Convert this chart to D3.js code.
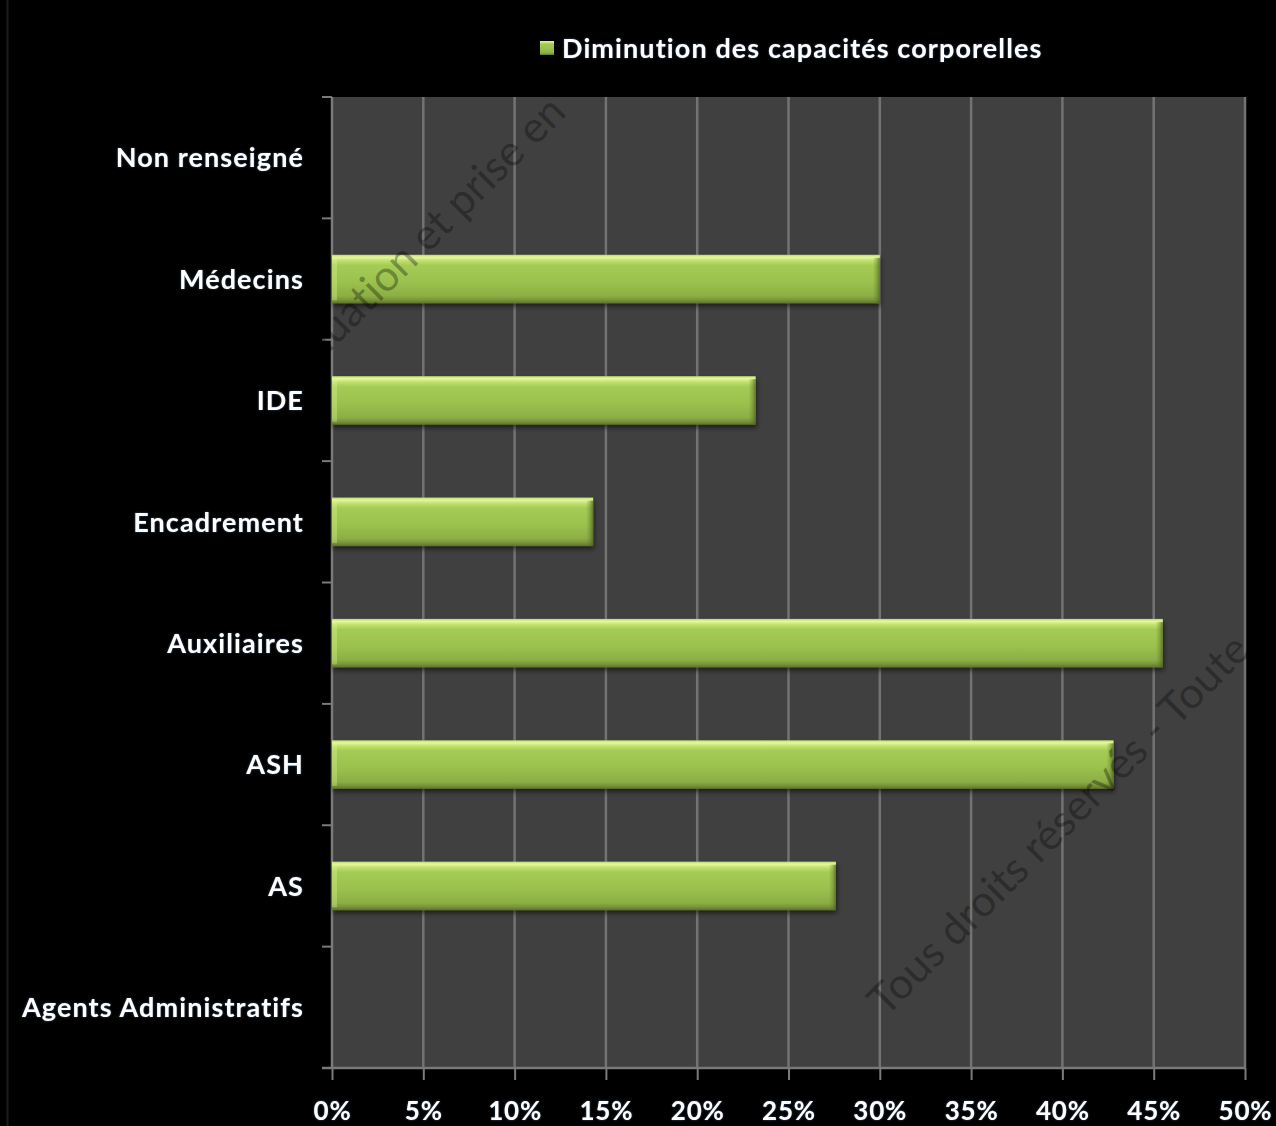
<!DOCTYPE html>
<html>
<head>
<meta charset="utf-8">
<script src="https://cdn.jsdelivr.net/npm/d3@7"></script>
<style>
  html, body { margin: 0; padding: 0; background: #000; }
  svg { display: block; }
  text { font-family: Lato, "Open Sans", sans-serif; font-variant-ligatures: none; }
</style>
</head>
<body>
<script>
// ---- data ----
const categories = ["Non renseigné", "Médecins", "IDE", "Encadrement", "Auxiliaires", "ASH", "AS", "Agents Administratifs"];
const values = [0, 30.0, 23.2, 14.3, 45.5, 42.8, 27.6, 0];
const seriesName = "Diminution des capacités corporelles";
const xTicks = [0, 5, 10, 15, 20, 25, 30, 35, 40, 45, 50];
const watermarks = ["évaluation et prise en", "Tous droits réservés - Toute"];

// ---- layout ----
const W = 1276, H = 1126;
const plot = { left: 332, right: 1245, top: 97, bottom: 1068 };

const svg = d3.select("body").append("svg").attr("width", W).attr("height", H);
svg.append("rect").attr("width", W).attr("height", H).attr("fill", "#000");
// faint slide border on the left
svg.append("line").attr("x1", 7.5).attr("x2", 7.5).attr("y1", 0).attr("y2", H)
  .attr("stroke", "#1c1c1c").attr("stroke-width", 2);

const defs = svg.append("defs");
const grad = defs.append("linearGradient").attr("id", "barGrad")
  .attr("x1", 0).attr("y1", 0).attr("x2", 0).attr("y2", 1);
[[0, "#b9d86a"], [0.05, "#e6f89c"], [0.12, "#c2e06e"], [0.22, "#a4cb55"], [0.55, "#9cc24e"],
 [0.85, "#8cae45"], [0.93, "#78953a"], [1, "#5c732c"]].forEach(([o, c]) =>
  grad.append("stop").attr("offset", o).attr("stop-color", c));
const endGrad = defs.append("linearGradient").attr("id", "endGrad")
  .attr("x1", 0).attr("y1", 0).attr("x2", 1).attr("y2", 0);
[[0, "rgba(90,115,40,0)"], [0.5, "rgba(90,115,40,0.35)"], [1, "rgba(70,90,30,0.75)"]].forEach(([o, c]) =>
  endGrad.append("stop").attr("offset", o).attr("stop-color", c));
const f = defs.append("filter").attr("id", "shadow").attr("x", "-5%").attr("y", "-30%").attr("width", "110%").attr("height", "170%");
f.append("feDropShadow").attr("dx", 1).attr("dy", 3).attr("stdDeviation", 2.5)
  .attr("flood-color", "#000").attr("flood-opacity", 0.55);
const glow = defs.append("filter").attr("id", "glow").attr("x", "-10%").attr("y", "-30%").attr("width", "120%").attr("height", "160%");
glow.append("feDropShadow").attr("dx", 0).attr("dy", 0).attr("stdDeviation", 0.8)
  .attr("flood-color", "#4a6fa0").attr("flood-opacity", 0.7);

// ---- scales ----
const x = d3.scaleLinear().domain([0, 50]).range([plot.left, plot.right]);
const y = d3.scaleBand().domain(categories).range([plot.top, plot.bottom])
  .paddingInner(0.6).paddingOuter(0.3);
const yBand = d3.scaleBand().domain(categories).range([plot.top, plot.bottom]).padding(0);

// plot background
svg.append("rect").attr("x", plot.left).attr("y", plot.top)
  .attr("width", plot.right - plot.left).attr("height", plot.bottom - plot.top)
  .attr("fill", "#404040");

// gridlines
svg.append("g").selectAll("line").data(xTicks.filter(d => d > 0)).join("line")
  .attr("x1", d => x(d)).attr("x2", d => x(d))
  .attr("y1", plot.top).attr("y2", plot.bottom)
  .attr("stroke", "#737373").attr("stroke-width", 2.5);

// x axis
const xAxis = svg.append("g").attr("transform", `translate(0,${plot.bottom})`)
  .call(d3.axisBottom(x).tickValues(xTicks).tickFormat(d => d + "%").tickSize(12).tickPadding(22));
xAxis.select(".domain").attr("stroke", "#7a7a7a").attr("stroke-width", 2.5)
  .attr("d", `M${plot.left - 10},0H${plot.right}`);
xAxis.selectAll(".tick line").attr("stroke", "#7a7a7a").attr("stroke-width", 2);
xAxis.selectAll(".tick text").attr("fill", "#fff").attr("font-size", 26).attr("font-weight", 700)
  .attr("letter-spacing", 0.8)
  .attr("font-family", "Lato, sans-serif").attr("filter", "url(#glow)");

// y axis
const yAxisG = svg.append("g").attr("transform", `translate(${plot.left},0)`);
yAxisG.append("line").attr("x1", 0).attr("x2", 0).attr("y1", plot.top).attr("y2", plot.bottom)
  .attr("stroke", "#7a7a7a").attr("stroke-width", 2.5);
const boundaries = categories.map(c => yBand(c)).concat([plot.bottom]);
yAxisG.selectAll("line.tk").data(boundaries).join("line").attr("class", "tk")
  .attr("x1", -10).attr("x2", 0).attr("y1", d => d).attr("y2", d => d)
  .attr("stroke", "#7a7a7a").attr("stroke-width", 2);
yAxisG.selectAll("text").data(categories).join("text")
  .attr("x", -28).attr("y", d => yBand(d) + yBand.bandwidth() / 2)
  .attr("dy", "0.36em").attr("text-anchor", "end")
  .attr("fill", "#fff").attr("font-size", 27).attr("font-weight", 700)
  .attr("letter-spacing", 1.1)
  .attr("filter", "url(#glow)")
  .text(d => d);

// bars
const bars = svg.append("g").selectAll("g").data(categories.map((c, i) => ({ c, v: values[i] })).filter(d => d.v > 0)).join("g");
bars.append("rect")
  .attr("x", x(0)).attr("y", d => y(d.c))
  .attr("width", d => x(d.v) - x(0)).attr("height", y.bandwidth())
  .attr("fill", "url(#barGrad)").attr("filter", "url(#shadow)");
bars.append("rect")
  .attr("x", d => x(d.v) - 7).attr("y", d => y(d.c) + 3)
  .attr("width", 7).attr("height", y.bandwidth() - 3)
  .attr("fill", "url(#endGrad)");
bars.append("rect")
  .attr("x", x(0)).attr("y", d => y(d.c) + 3)
  .attr("width", 5).attr("height", y.bandwidth() - 6)
  .attr("fill", "rgba(220,245,150,0.35)");

// legend
const lg = svg.append("g");
lg.append("rect").attr("x", 540).attr("y", 41).attr("width", 14).attr("height", 14)
  .attr("fill", "url(#barGrad)");
lg.append("text").attr("x", 562).attr("y", 48).attr("dy", "0.36em")
  .attr("fill", "#fff").attr("font-size", 27).attr("font-weight", 700)
  .attr("letter-spacing", 1.1)
  .attr("filter", "url(#glow)").text(seriesName);

// watermarks (semi-transparent, rotated)
const wm = svg.append("g").attr("font-family", "'Liberation Sans', Arial, sans-serif")
  .attr("font-size", 43).attr("fill", "rgba(0,0,0,0.33)");
wm.append("text").attr("text-anchor", "end")
  .attr("transform", "translate(568,114) rotate(-45)").text(watermarks[0]);
wm.append("text").attr("text-anchor", "start")
  .attr("transform", "translate(886,1018) rotate(-45)").text(watermarks[1]);
</script>
</body>
</html>
